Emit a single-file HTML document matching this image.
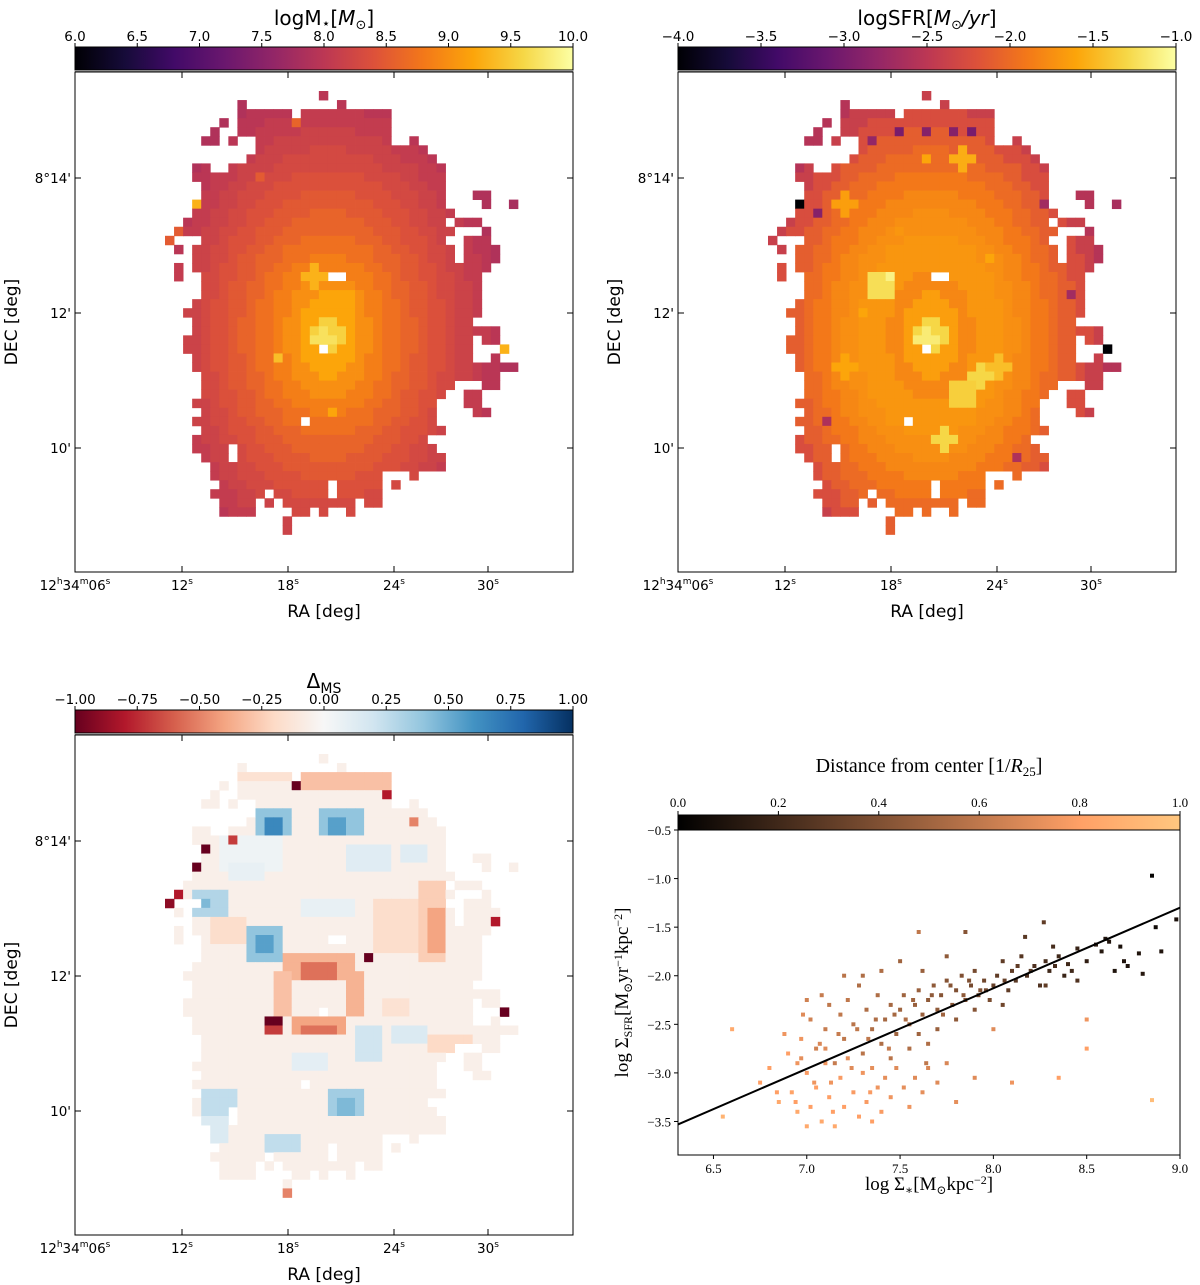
<!DOCTYPE html>
<html><head><meta charset="utf-8">
<style>
body{margin:0;background:#fff;}
svg{display:block;font-family:"DejaVu Sans","Liberation Sans",sans-serif;}
.serif{font-family:"Liberation Serif","DejaVu Serif",serif;}
</style></head>
<body>
<svg id="fig" width="1200" height="1285" viewBox="0 0 1200 1285" xmlns="http://www.w3.org/2000/svg">
<defs>
<linearGradient id="gInferno" x1="0" x2="1" y1="0" y2="0">
<stop offset="0" stop-color="#000004"/><stop offset="0.1" stop-color="#160b39"/><stop offset="0.2" stop-color="#420a68"/><stop offset="0.3" stop-color="#6a176e"/><stop offset="0.4" stop-color="#932667"/><stop offset="0.5" stop-color="#bc3754"/><stop offset="0.6" stop-color="#dd513a"/><stop offset="0.7" stop-color="#f37819"/><stop offset="0.8" stop-color="#fca50a"/><stop offset="0.9" stop-color="#f6d746"/><stop offset="1" stop-color="#fcffa4"/>
</linearGradient>
<linearGradient id="gRdBu" x1="0" x2="1" y1="0" y2="0">
<stop offset="0" stop-color="#67001f"/><stop offset="0.1" stop-color="#b2182b"/><stop offset="0.2" stop-color="#d6604d"/><stop offset="0.3" stop-color="#f4a582"/><stop offset="0.4" stop-color="#fddbc7"/><stop offset="0.5" stop-color="#f7f7f7"/><stop offset="0.6" stop-color="#d1e5f0"/><stop offset="0.7" stop-color="#92c5de"/><stop offset="0.8" stop-color="#4393c3"/><stop offset="0.9" stop-color="#2166ac"/><stop offset="1" stop-color="#053061"/>
</linearGradient>
<linearGradient id="gCopper" x1="0" x2="1" y1="0" y2="0">
<stop offset="0" stop-color="#000000"/><stop offset="0.8" stop-color="#ffa066"/><stop offset="1" stop-color="#ffc77f"/>
</linearGradient>
</defs>
<g id="root"></g>
</svg>
<script>
// ---------- data ----------
const maskRows = [
[[17,17]],[[8,8],[19,19]],[[8,13],[15,24]],[[6,6],[8,24]],[[5,5],[8,24]],
[[4,5],[7,7],[10,24],[27,27]],[[10,28]],[[9,29]],[[3,4],[7,30]],[[3,30]],
[[4,30]],[[4,30],[34,35]],[[3,30],[35,35],[38,38]],[[3,31]],[[2,30],[32,34]],
[[1,31],[35,35]],[[0,0],[4,31],[33,35]],[[1,1],[3,31],[33,36]],[[3,31],[33,36]],[[1,1],[3,35]],
[[1,1],[4,34]],[[4,34]],[[4,34]],[[3,34]],[[2,34]],
[[3,33]],[[3,36]],[[2,33],[35,36]],[[2,33],[37,37]],[[3,33],[36,36]],
[[3,38]],[[4,36]],[[4,31],[35,36]],[[4,30],[33,34]],[[3,29],[33,34]],
[[4,29],[34,35]],[[3,29]],[[4,30]],[[3,28]],[[3,29]],
[[4,30]],[[5,30]],[[5,23],[27,27]],[[6,23],[25,25]],[[5,23]],
[[6,9],[11,11],[13,20],[22,23]],[[6,9],[14,15],[17,17],[20,20]],[[13,13]],[[13,13]]
];
const holes = [[18,20],[19,20],[17,28],[15,36],[7,39],[7,40],[18,43],[18,44],[11,44],[31,14],[31,16],[32,16]];
const centre = [17.5, 26.5];
const scale = [16, 23];
const massProfile = [9.55,9.2,9.0,8.85,8.72,8.6,8.48,8.38,8.28,8.18,8.08,7.98,7.88,7.8];
const sfrProfile = [-1.3,-1.65,-1.8,-1.7,-1.7,-1.75,-1.8,-1.9,-2.0,-2.1,-2.25,-2.4,-2.55,-2.65];
const massSpots = [[17,27,1.2,9.7],[12,29,0.8,9.4],[18,35,0.6,9.2],[3,12,0.5,9.3],[37,28,0.5,9.3],[16,20,1.2,9.3],[19,23,1.5,9.2],[0,16,0.5,8.5],[1,15,0.5,8.5],[14,3,0.5,8.6],[10,9,0.5,8.5]];
const sfrSpots = [[12,21,1.6,-1.25],[13,20,0.8,-1.1],[17,27,1.3,-1.15],[21,33,1.7,-1.35],[23,31,1.0,-1.3],[19,38,1.4,-1.3],[21,7,1.3,-1.55],[17,7,0.9,-1.6],[8,12,1.0,-1.65],[25,30,1.2,-1.45],[8,30,1.0,-1.6],[10,24,0.9,-1.6],[14,15,0.8,-1.7],[24,18,0.9,-1.6],
[3,12,0.5,-4.0],[37,28,0.5,-4.0],[14,4,0.5,-3.0],[17,4,0.5,-2.9],[20,4,0.5,-2.9],[22,4,0.5,-3.0],[11,5,0.5,-2.8],[5,13,0.5,-2.9],[30,12,0.5,-2.7],[27,40,0.5,-2.6],[6,36,0.5,-2.6],[33,22,0.6,-2.7]];
const deltaBase = -0.06;
const deltaPatches = [
[10,6,13,8,0.4],[17,6,21,8,0.4],[11,7,12,8,0.65],[18,7,19,8,0.55],[9,19,12,22,0.4],[10,20,11,21,0.55],[3,15,6,17,0.3],[4,16,4,16,0.45],[18,37,21,39,0.35],[19,38,20,39,0.45],[4,37,7,39,0.25],
[21,30,23,33,0.2],[11,42,14,43,0.25],[25,30,28,31,0.15],[6,9,12,12,0.05],[15,16,20,17,0.08],[3,40,6,42,0.15],[7,12,10,13,0.08],[20,10,24,12,0.12],[26,10,28,11,0.12],[14,33,17,34,0.1],
[13,22,20,24,-0.35],[15,23,18,24,-0.55],[14,29,19,30,-0.4],[15,30,18,30,-0.55],[12,24,13,28,-0.3],[20,24,21,28,-0.35],[28,14,30,22,-0.25],[29,17,30,21,-0.4],[15,2,24,3,-0.3],
[8,2,13,2,-0.15],[23,16,27,21,-0.18],[5,18,8,20,-0.18],[29,31,33,32,-0.2],[24,27,26,28,-0.15]
];
const deltaCells = [[14,3,-1],[4,10,-1],[3,12,-1],[1,15,-0.8],[0,16,-0.9],[22,22,-1.1],[11,29,-1.1],[12,29,-1.1],[37,28,-1],[36,18,-0.8],[24,4,-0.8],[12,30,-0.7],[11,30,-0.7],[35,34,-0.7],[7,9,-0.7],[27,7,-0.5],[13,48,-0.5]];
const scX = [8.85,8.87,8.98,8.8,8.72,8.68,8.62,8.58,8.55,8.6,8.5,8.45,8.4,8.38,8.35,8.3,8.32,8.28,8.25,8.22,8.18,8.15,8.12,8.1,8.08,8.05,8.02,8.0,8.17,8.27,8.7,8.9,8.78,8.65,
7.95,7.92,7.9,7.88,7.85,7.83,7.8,7.78,7.75,7.72,7.7,7.68,7.65,7.62,7.6,7.58,7.55,7.52,7.5,7.48,7.45,7.42,7.4,7.38,7.35,7.32,7.3,7.28,7.25,7.22,7.2,7.18,7.15,7.12,7.1,7.08,7.05,7.02,7.6,7.7,7.8,7.9,7.5,7.62,7.75,7.85,7.55,7.45,7.65,7.98,8.05,7.4,7.3,7.2,7.0,8.5,8.28,8.45,
6.55,6.6,6.75,6.8,6.85,6.9,6.92,6.95,6.97,7.0,7.02,7.05,7.08,7.1,7.12,7.15,7.18,7.2,7.22,7.25,7.28,7.3,7.32,7.35,7.38,7.4,7.42,7.45,7.48,7.52,7.55,7.58,7.62,7.65,7.7,7.75,7.8,7.9,6.88,6.98,7.0,8.0,8.1,8.35,8.5,8.85,7.6,7.1,6.95,7.35,
8.42,8.2,8.06,7.96,7.87,7.77,7.67,7.57,7.47,7.37,7.27,7.17,7.07,6.97,7.13,7.33,7.53,7.73,7.93,8.13,8.33,7.44,7.64,7.84,7.24,7.04,6.84,6.94,7.14,7.34];
const scY = [-0.97,-1.5,-1.42,-1.98,-1.9,-1.7,-1.65,-1.75,-1.68,-1.62,-1.85,-1.72,-1.88,-2.0,-1.8,-1.95,-1.7,-1.85,-2.1,-1.9,-2.0,-1.8,-2.05,-1.95,-2.15,-1.85,-2.0,-2.1,-1.6,-1.45,-1.85,-1.75,-1.77,-1.95,
-2.05,-2.2,-1.95,-2.1,-2.25,-2.0,-2.15,-2.3,-2.05,-2.2,-2.35,-2.1,-2.25,-2.4,-2.15,-2.3,-2.5,-2.2,-2.35,-2.6,-2.3,-2.45,-2.7,-2.2,-2.55,-2.35,-2.8,-2.1,-2.5,-2.25,-2.65,-2.4,-2.9,-2.3,-2.55,-2.2,-2.75,-2.45,-2.6,-2.55,-2.45,-2.35,-1.85,-1.95,-1.8,-1.55,-2.75,-2.85,-2.7,-2.25,-2.3,-1.95,-2.0,-2.0,-2.25,-2.45,-2.1,-2.05,
-3.45,-2.55,-3.1,-2.95,-3.3,-2.8,-3.2,-3.4,-2.65,-3.0,-3.35,-3.15,-3.5,-2.9,-3.25,-3.55,-3.05,-3.35,-2.85,-3.2,-3.45,-3.0,-3.3,-2.95,-3.15,-3.4,-3.05,-3.25,-2.95,-3.15,-3.35,-3.05,-3.2,-2.95,-3.1,-2.9,-3.3,-3.05,-2.6,-2.4,-3.55,-2.55,-3.1,-3.05,-2.75,-3.28,-1.55,-2.75,-2.9,-3.5,
-1.95,-1.95,-2.05,-2.15,-2.05,-2.1,-2.2,-2.25,-2.4,-2.45,-2.55,-2.6,-2.7,-2.85,-3.1,-2.65,-2.45,-2.4,-2.15,-1.9,-1.9,-2.75,-2.9,-2.2,-2.95,-3.1,-3.2,-3.3,-3.4,-3.2];
const scD = [0.02,0.05,0.08,0.12,0.1,0.08,0.1,0.12,0.15,0.1,0.15,0.18,0.2,0.18,0.2,0.2,0.22,0.22,0.25,0.25,0.25,0.27,0.28,0.3,0.3,0.3,0.3,0.32,0.28,0.3,0.1,0.1,0.1,0.1,
0.35,0.35,0.37,0.37,0.4,0.4,0.4,0.42,0.42,0.42,0.45,0.45,0.45,0.48,0.48,0.48,0.5,0.5,0.5,0.5,0.52,0.52,0.55,0.55,0.55,0.55,0.58,0.55,0.58,0.6,0.6,0.6,0.62,0.6,0.62,0.62,0.65,0.65,0.5,0.48,0.45,0.42,0.5,0.48,0.45,0.42,0.55,0.58,0.55,0.38,0.35,0.55,0.55,0.58,0.65,0.75,0.3,0.25,
0.9,0.85,0.8,0.8,0.85,0.8,0.82,0.85,0.75,0.78,0.8,0.8,0.85,0.75,0.8,0.85,0.78,0.8,0.72,0.78,0.8,0.75,0.78,0.72,0.75,0.78,0.72,0.75,0.7,0.72,0.75,0.7,0.72,0.68,0.7,0.68,0.72,0.7,0.75,0.7,0.85,0.7,0.75,0.8,0.8,0.95,0.6,0.7,0.75,0.8,
0.2,0.28,0.32,0.36,0.4,0.42,0.45,0.5,0.52,0.55,0.6,0.62,0.68,0.72,0.75,0.6,0.55,0.5,0.4,0.3,0.22,0.62,0.6,0.45,0.7,0.75,0.8,0.8,0.8,0.78];
const fitLine = [[6.31,-3.53],[9.0,-1.3]];
const scXTicks = [6.5,7.0,7.5,8.0,8.5,9.0];
const scYTicks = [-0.5,-1.0,-1.5,-2.0,-2.5,-3.0,-3.5];
const distTicks = [0.0,0.2,0.4,0.6,0.8,1.0];
const massTicks = [6.0,6.5,7.0,7.5,8.0,8.5,9.0,9.5,10.0];
const sfrTicks = [-4.0,-3.5,-3.0,-2.5,-2.0,-1.5,-1.0];
const deltaTicks = [-1.00,-0.75,-0.50,-0.25,0.00,0.25,0.50,0.75,1.00];

// ---------- helpers ----------
const NS = "http://www.w3.org/2000/svg";
const root = document.getElementById('root');
function mk(tag, attrs, parent){const e=document.createElementNS(NS,tag);for(const k in attrs)e.setAttribute(k,attrs[k]);(parent||root).appendChild(e);return e;}
function hex(h){return [parseInt(h.slice(1,3),16),parseInt(h.slice(3,5),16),parseInt(h.slice(5,7),16)];}
function cmap(stops,t){t=Math.max(0,Math.min(1,t));const n=stops.length-1;const i=Math.min(n-1,Math.floor(t*n));const f=t*n-i;const a=hex(stops[i]),b=hex(stops[i+1]);return 'rgb('+a.map((v,k)=>Math.round(v+(b[k]-v)*f)).join(',')+')';}
const INF=["#000004","#160b39","#420a68","#6a176e","#932667","#bc3754","#dd513a","#f37819","#fca50a","#f6d746","#fcffa4"];
const RDBU=["#67001f","#b2182b","#d6604d","#f4a582","#fddbc7","#f7f7f7","#d1e5f0","#92c5de","#4393c3","#2166ac","#053061"];
function copper(t){t=Math.max(0,Math.min(1,t));return 'rgb('+Math.round(255*Math.min(1,1.25*t))+','+Math.round(255*0.7812*t)+','+Math.round(255*0.4975*t)+')';}
function isHole(c,r){return holes.some(h=>h[0]===c&&h[1]===r);}
function radius(c,r){return Math.hypot((c-centre[0])/scale[0],(r-centre[1])/scale[1]);}
function prof(p,c,r){const i=Math.min(p.length-1,Math.floor(radius(c,r)*10));return p[i];}
function spotVal(base,spots,c,r){let v=base;for(const s of spots){const d=Math.hypot(c-s[0],r-s[1]);if(d<=s[2]){v=s[3];}}return v;}
function massVal(c,r){return spotVal(prof(massProfile,c,r),massSpots,c,r);}
function sfrVal(c,r){return spotVal(prof(sfrProfile,c,r),sfrSpots,c,r);}
function deltaVal(c,r){let v=deltaBase;for(const p of deltaPatches){if(c>=p[0]&&c<=p[2]&&r>=p[1]&&r<=p[3])v=p[4];}for(const q of deltaCells){if(q[0]===c&&q[1]===r)v=q[2];}return v;}

function text(x,y,s,opts,parent){const t=mk('text',Object.assign({x:x,y:y,'font-size':14,'text-anchor':'middle',fill:'#000'},opts||{}),parent);t.innerHTML=s;return t;}

const RA_TICKS=[{x:0,l:'12<tspan font-size="9" dy="-6">h</tspan><tspan dy="6">34</tspan><tspan font-size="9" dy="-6">m</tspan><tspan dy="6">06</tspan><tspan font-size="9" dy="-6">s</tspan>'},{x:107,l:'12<tspan font-size="9" dy="-6">s</tspan>'},{x:213,l:'18<tspan font-size="9" dy="-6">s</tspan>'},{x:319,l:'24<tspan font-size="9" dy="-6">s</tspan>'},{x:413,l:'30<tspan font-size="9" dy="-6">s</tspan>'}];
const DEC_TICKS=[{y:106,l:"8°14'"},{y:241,l:"12'"},{y:376,l:"10'"}];

function mapPanel(ox,oy,name,valFn,stops,vmin,vmax,cbTicks,cbFmt,grad,title){
  const g=mk('g',{transform:'translate('+ox+','+oy+')'});
  
  
  const tt=text(249,-47,title,{'font-size':20},g);
  
  
  const cb=mk('rect',{x:0,y:-25,width:498,height:23,fill:'url(#'+grad+')',stroke:'#000','stroke-width':1},g);
  
  
  mk('rect',{x:0,y:-2,width:498,height:2,fill:'#888'},g);
  cbTicks.forEach(v=>{const x=(v-vmin)/(vmax-vmin)*498;mk('line',{x1:x,x2:x,y1:-25,y2:-29,stroke:'#000'},g);
    const l=text(x,-31,cbFmt(v).replace('-','−'),{'font-size':13.5},g);
    
    });
  const cs=9.05,x0=90,y0=19;
  const cells=mk('g',{},g);
  
  
  maskRows.forEach((segs,r)=>{segs.forEach(s=>{for(let c=s[0];c<=s[1];c++){if(isHole(c,r))continue;const v=valFn(c,r);
    const rc=mk('rect',{x:(x0+c*cs).toFixed(2),y:(y0+r*cs).toFixed(2),width:cs+0.4,height:cs+0.4,fill:cmap(stops,(v-vmin)/(vmax-vmin))},cells);
    
    }});});
  const fr=mk('rect',{x:0,y:0,width:498,height:500,fill:'none',stroke:'#000','stroke-width':1},g);
  
  
  RA_TICKS.forEach(t=>{mk('line',{x1:t.x,x2:t.x,y1:500,y2:494,stroke:'#000'},g);mk('line',{x1:t.x,x2:t.x,y1:0,y2:6,stroke:'#000'},g);
    const l=text(t.x,518,t.l,{'font-size':13.5},g);
    
    });
  DEC_TICKS.forEach(t=>{mk('line',{x1:0,x2:6,y1:t.y,y2:t.y,stroke:'#000'},g);mk('line',{x1:498,x2:492,y1:t.y,y2:t.y,stroke:'#000'},g);
    const l=text(-4,t.y+5,t.l,{'font-size':13.5,'text-anchor':'end'},g);
    
    });
  const xl=text(249,545,'RA [deg]',{'font-size':17},g);
  
  
  const yl=text(0,0,'DEC [deg]',{'font-size':17,transform:'translate(-58,250) rotate(-90)'},g);
  
  
}

mapPanel(75,72,'stellar-mass',massVal,INF,6,10,massTicks,v=>v.toFixed(1),'gInferno','logM<tspan font-size="14" dy="3">⋆</tspan><tspan dy="-3">[</tspan><tspan font-style="italic">M</tspan><tspan font-size="13" dy="4">⊙</tspan><tspan dy="-4">]</tspan>');
mapPanel(678,72,'sfr',sfrVal,INF,-4,-1,sfrTicks,v=>v.toFixed(1),'gInferno','logSFR[<tspan font-style="italic">M</tspan><tspan font-size="13" dy="4">⊙</tspan><tspan dy="-4" font-style="italic">/yr</tspan>]');
mapPanel(75,735,'delta-ms',deltaVal,RDBU,-1,1,deltaTicks,v=>v.toFixed(2),'gRdBu','Δ<tspan font-size="14" dy="5">MS</tspan>');

(function(){
  const L=678,R=1180,T=830,B=1155;
  const xmin=6.31,xmax=9.0,ymin=-3.845,ymax=-0.5;
  const X=v=>L+(v-xmin)/(xmax-xmin)*(R-L);
  const Y=v=>B-(v-ymin)/(ymax-ymin)*(B-T);
  const g=mk('g',{});
  
  
  const tt=text((L+R)/2,772,'Distance from center [1/<tspan font-style="italic">R</tspan><tspan font-size="13" dy="4">25</tspan><tspan dy="-4">]</tspan>',{'font-size':20,class:'serif'},g);
  
  
  const cb=mk('rect',{x:L,y:815,width:R-L,height:15,fill:'url(#gCopper)',stroke:'#000'},g);
  
  
  distTicks.forEach(v=>{const x=L+v*(R-L);mk('line',{x1:x,x2:x,y1:815,y2:811,stroke:'#000'},g);
    const l=text(x,807,v.toFixed(1),{'font-size':13,class:'serif'},g);
    
    });
  const pts=mk('g',{},g);
  
  
  scX.forEach((x,i)=>{const p=mk('rect',{x:(X(x)-2).toFixed(1),y:(Y(scY[i])-2).toFixed(1),width:4,height:4,fill:copper(scD[i])},pts);
    
    });
  const ln=mk('line',{x1:X(fitLine[0][0]),y1:Y(fitLine[0][1]),x2:X(fitLine[1][0]),y2:Y(fitLine[1][1]),stroke:'#000','stroke-width':2},g);
  
  
  const fr=mk('rect',{x:L,y:T,width:R-L,height:B-T,fill:'none',stroke:'#000'},g);
  
  
  scXTicks.forEach(v=>{const x=X(v);mk('line',{x1:x,x2:x,y1:B,y2:B+4,stroke:'#000'},g);
    const l=text(x,B+18,v.toFixed(1),{'font-size':13,class:'serif'},g);
    
    });
  scYTicks.forEach(v=>{const y=Y(v);mk('line',{x1:L,x2:L-4,y1:y,y2:y,stroke:'#000'},g);
    const l=text(L-7,y+5,v.toFixed(1).replace('-','−'),{'font-size':13,'text-anchor':'end',class:'serif'},g);
    
    });
  const xl=text((L+R)/2,1190,'log Σ<tspan font-size="12" dy="4">∗</tspan><tspan dy="-4">[M</tspan><tspan font-size="12" dy="4">⊙</tspan><tspan dy="-4">kpc</tspan><tspan font-size="12" dy="-6">−2</tspan><tspan dy="6">]</tspan>',{'font-size':19,class:'serif'},g);
  
  
  const yl=text(0,0,'log Σ<tspan font-size="12" dy="4">SFR</tspan><tspan dy="-4">[M</tspan><tspan font-size="12" dy="4">⊙</tspan><tspan dy="-4">yr</tspan><tspan font-size="12" dy="-6">−1</tspan><tspan dy="6">kpc</tspan><tspan font-size="12" dy="-6">−2</tspan><tspan dy="6">]</tspan>',{'font-size':19,class:'serif',transform:'translate(628,'+((T+B)/2)+') rotate(-90)'},g);
  
  
})();
</script>
</body></html>
